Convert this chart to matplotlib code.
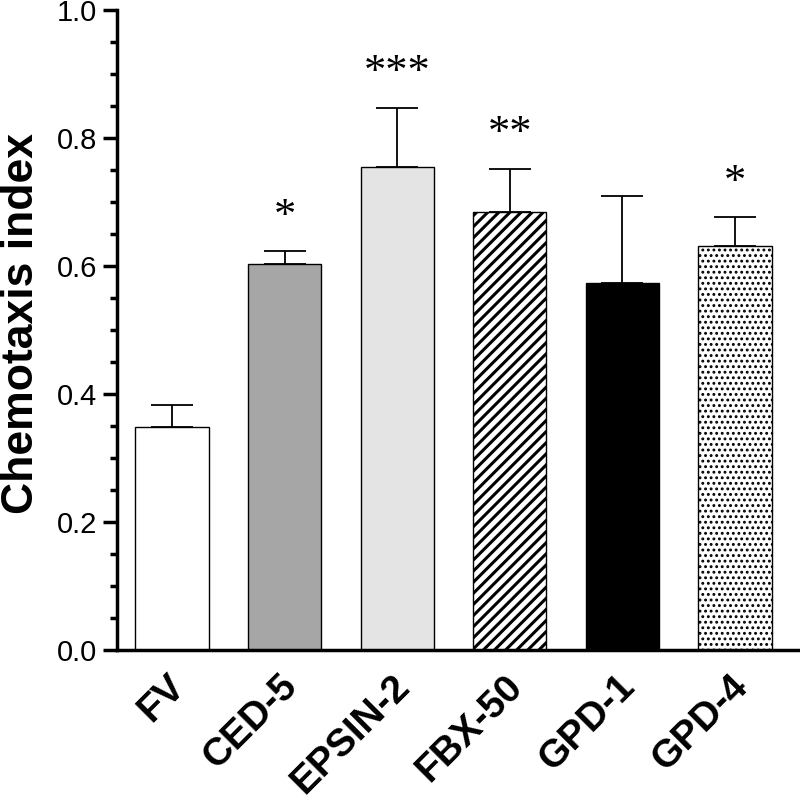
import matplotlib
matplotlib.use("Agg")
import matplotlib.pyplot as plt
from matplotlib.ticker import MultipleLocator
import numpy as np

groups = ["FV", "CED-5", "EPSIN-2", "FBX-50", "GPD-1", "GPD-4"]
means = [0.348, 0.603, 0.755, 0.685, 0.573, 0.631]
sem = [0.035, 0.020, 0.092, 0.067, 0.136, 0.045]
stars = ["", "*", "***", "**", "", "*"]

colors = ["white", "#a6a6a6", "#e4e4e4", "white", "black", "white"]
hatches = [None, None, None, "///", None, "..."]
hatch_lw = [1.0, 1.0, 1.0, 2.2, 1.0, 1.3]

plt.rcParams["font.family"] = ["Liberation Sans", "DejaVu Sans"]

fig = plt.figure(figsize=(8, 8), dpi=100)
ax = fig.add_axes([0.146, 0.1875, 0.853, 0.80])

x = np.arange(len(groups))
err = [np.zeros(len(sem)), sem]
for i in range(len(groups)):
    with plt.rc_context({"hatch.linewidth": hatch_lw[i]}):
        b = ax.bar(x[i], means[i], width=0.65, color=colors[i], edgecolor="black",
                   linewidth=1.0, hatch=hatches[i], zorder=2)
    if hasattr(b[0], "set_hatch_linewidth"):
        b[0].set_hatch_linewidth(hatch_lw[i])
ax.errorbar(x, means, yerr=err, fmt="none", ecolor="black", elinewidth=1.3,
            capsize=15, capthick=1.3, zorder=3)

for i in range(len(groups)):
    if stars[i]:
        ax.text(x[i], means[i] + sem[i] + 0.037, stars[i], ha="center",
                va="baseline", fontsize=32, family="Liberation Serif")

ax.set_xlim(-0.49, 5.57)
ax.set_ylim(0, 1.0)
ax.yaxis.set_minor_locator(MultipleLocator(0.05))
ax.set_yticks([0.0, 0.2, 0.4, 0.6, 0.8, 1.0])
ax.set_yticklabels(["0.0", "0.2", "0.4", "0.6", "0.8", "1.0"], fontsize=21)

# group names, rotated, placed under each bar
ax.set_xticks(x)
ax.set_xticklabels([])
for i in range(len(groups)):
    ax.annotate(groups[i], xy=(x[i], 0), xycoords=("data", "axes fraction"),
                xytext=(-4, -13), textcoords="offset points", rotation=45,
                ha="right", va="top", rotation_mode="anchor",
                fontsize=28, fontweight="bold")

ax.tick_params(axis="x", length=0)
ax.tick_params(axis="y", which="major", length=10, width=2.5, pad=4)
ax.tick_params(axis="y", which="minor", length=5, width=2.5)

for s in ["top", "right"]:
    ax.spines[s].set_visible(False)
for s in ["left", "bottom"]:
    ax.spines[s].set_linewidth(2.5)

ax.set_ylabel("Chemotaxis index", fontsize=32, fontweight="bold")
ax.yaxis.set_label_coords(-0.11, 0.51)

fig.savefig("out.png", dpi=100)
